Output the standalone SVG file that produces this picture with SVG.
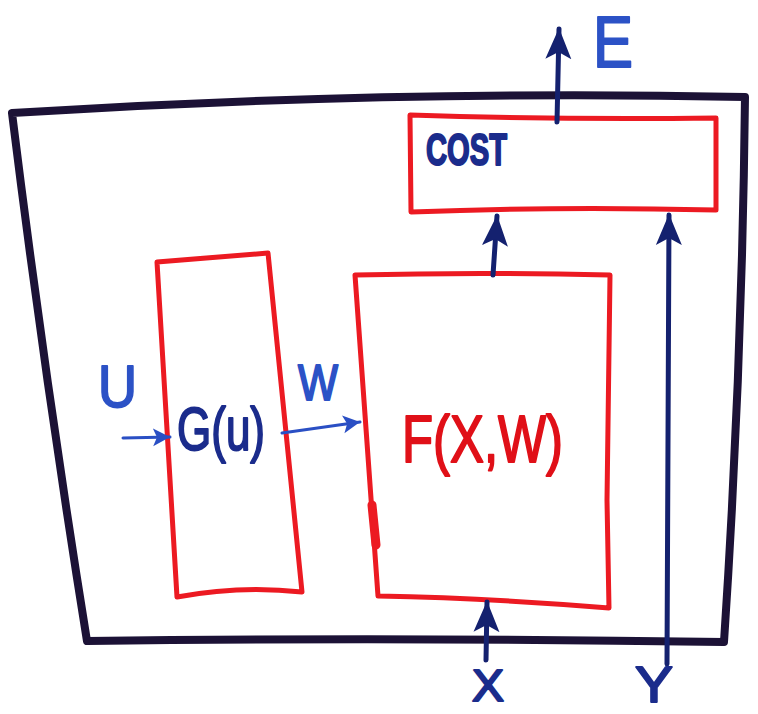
<svg xmlns="http://www.w3.org/2000/svg" width="758" height="714" viewBox="0 0 758 714">
<style>
.outer{fill:none;stroke:#1c1236;stroke-width:8;stroke-linejoin:round;stroke-linecap:round}
.box{fill:none;stroke:#ec1a22;stroke-width:5;stroke-linejoin:round;stroke-linecap:round}
.wire{fill:none;stroke:#14216f;stroke-width:5;stroke-linecap:round}
.wire2{fill:none;stroke:#2a4fc4;stroke-width:3;stroke-linecap:round}
.t{font-family:"Liberation Sans",Arial,sans-serif;stroke-width:2;stroke-linejoin:round}
.dk{fill:#1b2c8c;stroke:#1b2c8c}
.lt{fill:#2c52c6;stroke:#2c52c6}
.rd{fill:#e01018;stroke:#e01018}
</style>
<defs>
<marker id="ah" markerUnits="userSpaceOnUse" markerWidth="32" markerHeight="30" viewBox="0 0 32 30" refX="30" refY="15" orient="auto">
<path d="M0,2 L31,15 L0,28 L7,15 Z" fill="#14216f"/>
</marker>
<marker id="ahs" markerUnits="userSpaceOnUse" markerWidth="18" markerHeight="20" viewBox="0 0 18 20" refX="17" refY="10" orient="auto">
<path d="M0,1 L17,10 L0,19 L4,10 Z" fill="#2a4fc4"/>
</marker>
</defs>

<g id="frame">
<path class="outer" d="M12,113 Q380,90 745,97 Q742,370 724,642 Q400,637 87,641 Q45,380 12,113 Z"/>
</g>

<g id="cost">
<path class="box" d="M410,115 Q560,120 716,118 L716,210 Q560,206 411,212 Z"/>
<text class="t dk" x="426" y="165" font-size="44" font-weight="bold" textLength="81" lengthAdjust="spacingAndGlyphs">COST</text>
</g>

<g id="g">
<path class="box" d="M157,262 L268,253 L302,592 Q240,585 177,597 Z"/>
<text class="t dk" x="177" y="450" font-size="62" textLength="88" lengthAdjust="spacingAndGlyphs">G(u)</text>
</g>

<g id="f">
<path class="box" d="M355,275 Q480,272 610,275 L607,500 L609,608 Q490,598 378,596 Z"/>
<path d="M372,505 L376,545" stroke="#ec1a22" stroke-width="9" stroke-linecap="round"/>
<text class="t rd" x="402" y="462" font-size="66" textLength="161" lengthAdjust="spacingAndGlyphs">F(X,W)</text>
</g>

<g id="connectors">
<line class="wire" x1="557" y1="122" x2="559" y2="29" marker-end="url(#ah)"/>
<line class="wire" x1="493" y1="275" x2="497" y2="216" marker-end="url(#ah)"/>
<line class="wire" x1="667" y1="664" x2="669" y2="215" marker-end="url(#ah)"/>
<line class="wire" x1="486" y1="660" x2="487" y2="602" marker-end="url(#ah)"/>
<line class="wire2" x1="123" y1="438" x2="170" y2="437" marker-end="url(#ahs)"/>
<line class="wire2" x1="282" y1="433" x2="360" y2="422" marker-end="url(#ahs)"/>
</g>

<g id="labels">
<text class="t lt" x="593" y="67" font-size="72" textLength="40" lengthAdjust="spacingAndGlyphs">E</text>
<text class="t lt" x="98" y="407" font-size="60" textLength="39" lengthAdjust="spacingAndGlyphs">U</text>
<text class="t lt" x="298" y="400" font-size="50" textLength="40" lengthAdjust="spacingAndGlyphs">W</text>
<text class="t dk" x="472" y="701" font-size="44" textLength="32" lengthAdjust="spacingAndGlyphs">X</text>
<text class="t dk" x="635" y="702" font-size="50" textLength="38" lengthAdjust="spacingAndGlyphs">Y</text>
</g>
</svg>
